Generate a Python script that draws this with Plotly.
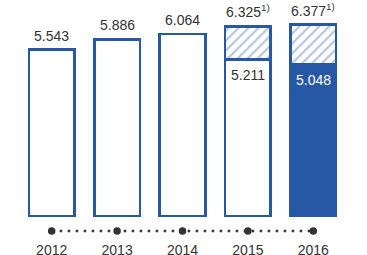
import plotly.graph_objects as go

years = ["2012", "2013", "2014", "2015", "2016"]
totals = [5.543, 5.886, 6.064, 6.325, 6.377]
base_values = [5.543, 5.886, 6.064, 5.211, 5.048]
total_labels = ["5.543", "5.886", "6.064", "6.325<sup>1)</sup>", "6.377<sup>1)</sup>"]
inner_labels = [None, None, None, "5.211", "5.048"]

BLUE = "#2658a6"
HATCH = "#5f84c6"
TXT = "#333333"
FONT = "Arial, Liberation Sans, sans-serif"

xs = list(range(len(years)))
top_part = [round(t - b, 3) if t - b > 0.0001 else None for t, b in zip(totals, base_values)]
base_fill = ["white", "white", "white", "white", BLUE]

fig = go.Figure()
fig.add_trace(go.Bar(
    x=xs, y=base_values, width=0.70,
    marker=dict(color=base_fill, line=dict(color=BLUE, width=2.6)),
    hoverinfo="skip",
))
fig.add_trace(go.Bar(
    x=xs, y=top_part, width=0.70,
    marker=dict(color="white", line=dict(color=BLUE, width=2.6),
                pattern=dict(shape="/", fgcolor=HATCH, bgcolor="white", size=7, solidity=0.28)),
    hoverinfo="skip",
))
# timeline
fig.add_trace(go.Scatter(
    x=xs, y=[-0.5] * len(xs), mode="lines+markers",
    line=dict(color=TXT, width=2.5, dash="2.5px,5.5px"),
    marker=dict(color=TXT, size=7.5),
    hoverinfo="skip", cliponaxis=False,
))

for i, lab in enumerate(total_labels):
    fig.add_annotation(x=xs[i], y=totals[i], text=lab, showarrow=False,
                       yanchor="bottom", yshift=4,
                       font=dict(family=FONT, size=14, color=TXT))
for i, lab in enumerate(inner_labels):
    if lab:
        fig.add_annotation(x=xs[i], y=base_values[i], text=lab, showarrow=False,
                           yanchor="top", yshift=-5,
                           font=dict(family=FONT, size=14,
                                     color="white" if base_fill[i] == BLUE else TXT))

fig.update_layout(
    width=367, height=255,
    margin=dict(l=19, r=21, t=0, b=15, autoexpand=False),
    barmode="stack", showlegend=False,
    plot_bgcolor="white", paper_bgcolor="white",
    bargap=0.3,
    xaxis=dict(range=[-0.5, 4.5], tickvals=xs, ticktext=years, showgrid=False,
               zeroline=False, showline=False, ticks="", ticklabelstandoff=0,
               automargin=False,
               tickfont=dict(family=FONT, size=14, color=TXT)),
    yaxis=dict(range=[-0.8, 7.2], visible=False, showgrid=False, zeroline=False,
               automargin=False),
)

fig.write_html("out.html")
